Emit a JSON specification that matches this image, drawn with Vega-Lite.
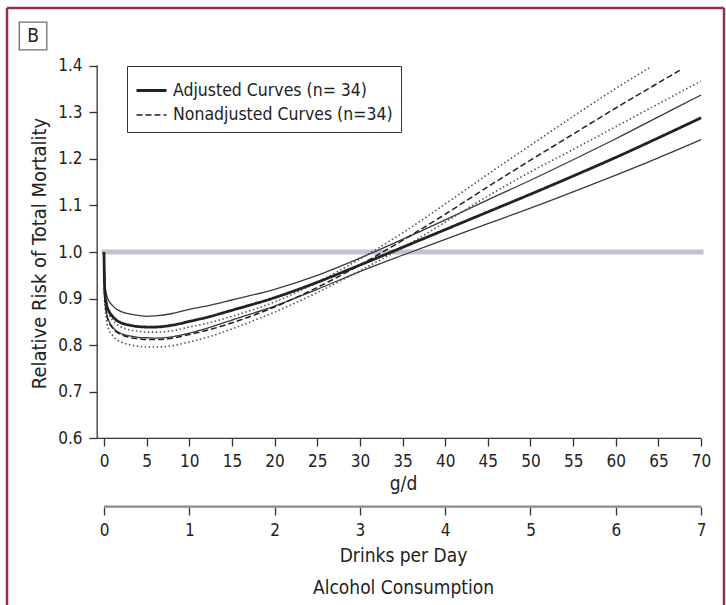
{
  "$schema": "https://vega.github.io/schema/vega-lite/v6.json",
  "width": 717,
  "height": 597,
  "autosize": {"type": "none"},
  "padding": {"left": 7, "top": 8, "right": 2, "bottom": 0},
  "background": "white",
  "config": {
    "view": {"stroke": null},
    "font": "DejaVu Sans Condensed, Liberation Sans Narrow, sans-serif",
    "axis": {
      "grid": false,
      "domain": false,
      "tickColor": "#333",
      "tickWidth": 1.3,
      "labelColor": "#222",
      "titleColor": "#222",
      "labelFontSize": 17,
      "titleFontSize": 19,
      "titleFontWeight": "normal"
    },
    "legend": {"labelColor": "#222"}
  },
  "datasets": {
    "curves": [
      {"c":"AC","x":0,"y":1.0},{"c":"AC","x":0.05,"y":0.94},{"c":"AC","x":0.1,"y":0.915},{"c":"AC","x":0.3,"y":0.888},{"c":"AC","x":0.6,"y":0.872},{"c":"AC","x":1,"y":0.862},{"c":"AC","x":1.5,"y":0.853},{"c":"AC","x":2,"y":0.848},{"c":"AC","x":3,"y":0.843},{"c":"AC","x":4,"y":0.840},{"c":"AC","x":5,"y":0.839},{"c":"AC","x":6,"y":0.839},{"c":"AC","x":8,"y":0.843},{"c":"AC","x":10,"y":0.851},{"c":"AC","x":12.5,"y":0.862},{"c":"AC","x":15,"y":0.875},{"c":"AC","x":20,"y":0.902},{"c":"AC","x":25,"y":0.935},{"c":"AC","x":30,"y":0.972},{"c":"AC","x":35,"y":1.010},{"c":"AC","x":40,"y":1.048},{"c":"AC","x":45,"y":1.086},{"c":"AC","x":50,"y":1.124},{"c":"AC","x":55,"y":1.163},{"c":"AC","x":60,"y":1.203},{"c":"AC","x":65,"y":1.245},{"c":"AC","x":70,"y":1.288},
      {"c":"AU","x":0,"y":1.0},{"c":"AU","x":0.05,"y":0.951},{"c":"AU","x":0.1,"y":0.931},{"c":"AU","x":0.3,"y":0.908},{"c":"AU","x":0.6,"y":0.894},{"c":"AU","x":1,"y":0.885},{"c":"AU","x":1.5,"y":0.877},{"c":"AU","x":2,"y":0.872},{"c":"AU","x":3,"y":0.867},{"c":"AU","x":4,"y":0.864},{"c":"AU","x":5,"y":0.862},{"c":"AU","x":6,"y":0.863},{"c":"AU","x":8,"y":0.868},{"c":"AU","x":10,"y":0.877},{"c":"AU","x":12.5,"y":0.886},{"c":"AU","x":15,"y":0.897},{"c":"AU","x":20,"y":0.920},{"c":"AU","x":25,"y":0.950},{"c":"AU","x":30,"y":0.987},{"c":"AU","x":35,"y":1.027},{"c":"AU","x":40,"y":1.069},{"c":"AU","x":45,"y":1.112},{"c":"AU","x":50,"y":1.154},{"c":"AU","x":55,"y":1.198},{"c":"AU","x":60,"y":1.243},{"c":"AU","x":65,"y":1.290},{"c":"AU","x":70,"y":1.337},
      {"c":"AL","x":0,"y":1.0},{"c":"AL","x":0.05,"y":0.929},{"c":"AL","x":0.1,"y":0.899},{"c":"AL","x":0.3,"y":0.869},{"c":"AL","x":0.6,"y":0.851},{"c":"AL","x":1,"y":0.839},{"c":"AL","x":1.5,"y":0.830},{"c":"AL","x":2,"y":0.825},{"c":"AL","x":3,"y":0.820},{"c":"AL","x":4,"y":0.817},{"c":"AL","x":5,"y":0.816},{"c":"AL","x":6,"y":0.815},{"c":"AL","x":8,"y":0.818},{"c":"AL","x":10,"y":0.826},{"c":"AL","x":12.5,"y":0.839},{"c":"AL","x":15,"y":0.854},{"c":"AL","x":20,"y":0.884},{"c":"AL","x":25,"y":0.920},{"c":"AL","x":30,"y":0.958},{"c":"AL","x":35,"y":0.993},{"c":"AL","x":40,"y":1.027},{"c":"AL","x":45,"y":1.061},{"c":"AL","x":50,"y":1.094},{"c":"AL","x":55,"y":1.129},{"c":"AL","x":60,"y":1.165},{"c":"AL","x":65,"y":1.202},{"c":"AL","x":70,"y":1.241},
      {"c":"NC","x":0,"y":1.0},{"c":"NC","x":0.05,"y":0.93},{"c":"NC","x":0.1,"y":0.902},{"c":"NC","x":0.3,"y":0.868},{"c":"NC","x":0.6,"y":0.849},{"c":"NC","x":1,"y":0.837},{"c":"NC","x":1.5,"y":0.828},{"c":"NC","x":2,"y":0.823},{"c":"NC","x":3,"y":0.817},{"c":"NC","x":4,"y":0.814},{"c":"NC","x":5,"y":0.812},{"c":"NC","x":6,"y":0.812},{"c":"NC","x":8,"y":0.815},{"c":"NC","x":10,"y":0.823},{"c":"NC","x":12.5,"y":0.834},{"c":"NC","x":15,"y":0.848},{"c":"NC","x":20,"y":0.882},{"c":"NC","x":25,"y":0.924},{"c":"NC","x":30,"y":0.972},{"c":"NC","x":35,"y":1.025},{"c":"NC","x":40,"y":1.081},{"c":"NC","x":45,"y":1.140},{"c":"NC","x":50,"y":1.197},{"c":"NC","x":55,"y":1.253},{"c":"NC","x":60,"y":1.309},{"c":"NC","x":65,"y":1.363},{"c":"NC","x":67.7,"y":1.392},
      {"c":"NU","x":0,"y":1.0},{"c":"NU","x":0.05,"y":0.939},{"c":"NU","x":0.1,"y":0.916},{"c":"NU","x":0.3,"y":0.884},{"c":"NU","x":0.6,"y":0.866},{"c":"NU","x":1,"y":0.854},{"c":"NU","x":1.5,"y":0.845},{"c":"NU","x":2,"y":0.839},{"c":"NU","x":3,"y":0.833},{"c":"NU","x":4,"y":0.830},{"c":"NU","x":5,"y":0.828},{"c":"NU","x":6,"y":0.828},{"c":"NU","x":8,"y":0.831},{"c":"NU","x":10,"y":0.839},{"c":"NU","x":12.5,"y":0.849},{"c":"NU","x":15,"y":0.862},{"c":"NU","x":20,"y":0.893},{"c":"NU","x":25,"y":0.935},{"c":"NU","x":30,"y":0.985},{"c":"NU","x":35,"y":1.041},{"c":"NU","x":40,"y":1.103},{"c":"NU","x":45,"y":1.167},{"c":"NU","x":50,"y":1.229},{"c":"NU","x":55,"y":1.291},{"c":"NU","x":60,"y":1.351},{"c":"NU","x":64,"y":1.396},
      {"c":"NL","x":0,"y":1.0},{"c":"NL","x":0.05,"y":0.921},{"c":"NL","x":0.1,"y":0.889},{"c":"NL","x":0.3,"y":0.853},{"c":"NL","x":0.6,"y":0.832},{"c":"NL","x":1,"y":0.821},{"c":"NL","x":1.5,"y":0.812},{"c":"NL","x":2,"y":0.807},{"c":"NL","x":3,"y":0.801},{"c":"NL","x":4,"y":0.798},{"c":"NL","x":5,"y":0.796},{"c":"NL","x":6,"y":0.796},{"c":"NL","x":8,"y":0.799},{"c":"NL","x":10,"y":0.807},{"c":"NL","x":12.5,"y":0.819},{"c":"NL","x":15,"y":0.835},{"c":"NL","x":20,"y":0.871},{"c":"NL","x":25,"y":0.913},{"c":"NL","x":30,"y":0.960},{"c":"NL","x":35,"y":1.009},{"c":"NL","x":40,"y":1.064},{"c":"NL","x":45,"y":1.120},{"c":"NL","x":50,"y":1.172},{"c":"NL","x":55,"y":1.220},{"c":"NL","x":60,"y":1.269},{"c":"NL","x":65,"y":1.318},{"c":"NL","x":70,"y":1.367}
    ]
  },
  "resolve": {"scale": {"x": "independent"}, "axis": {"x": "independent"}},
  "layer": [
    {
      "layer": [
        {
          "data": {"values": [{}]},
          "mark": {"type": "rule", "color": "#96304f", "strokeWidth": 2.5},
          "encoding": {
            "x": {"datum": -11.372, "type": "quantitative", "scale": {"domain": [-11.372, 72.685], "nice": false, "zero": false}},
            "y": {"datum": 0.2425, "type": "quantitative", "scale": {"domain": [0.2425, 1.5236], "nice": false, "zero": false}},
            "y2": {"datum": 1.5236}
          }
        },
        {
          "data": {"values": [{}]},
          "mark": {"type": "rule", "color": "#96304f", "strokeWidth": 2.5},
          "encoding": {
            "x": {"datum": 72.685, "type": "quantitative", "scale": {"domain": [-11.372, 72.685], "nice": false, "zero": false}},
            "y": {"datum": 0.2425, "type": "quantitative", "scale": {"domain": [0.2425, 1.5236], "nice": false, "zero": false}},
            "y2": {"datum": 1.5236}
          }
        },
        {
          "data": {"values": [{}]},
          "mark": {"type": "rule", "color": "#96304f", "strokeWidth": 2.5},
          "encoding": {
            "x": {"datum": -11.372, "type": "quantitative", "scale": {"domain": [-11.372, 72.685], "nice": false, "zero": false}},
            "x2": {"datum": 72.685},
            "y": {"datum": 1.5236, "type": "quantitative", "scale": {"domain": [0.2425, 1.5236], "nice": false, "zero": false}}
          }
        },
        {
          "data": {"values": [{}]},
          "mark": {"type": "rule", "color": "#c2c2ce", "strokeWidth": 5, "strokeCap": "square"},
          "encoding": {
            "x": {"datum": 0, "type": "quantitative", "scale": {"domain": [-11.372, 72.685], "nice": false, "zero": false}},
            "x2": {"datum": 70},
            "y": {"datum": 1.0, "type": "quantitative", "scale": {"domain": [0.2425, 1.5236], "nice": false, "zero": false}}
          }
        },
        {
          "data": {"values": [{}]},
          "mark": {"type": "rule", "color": "#333", "strokeWidth": 1.3},
          "encoding": {
            "x": {"datum": -0.8, "type": "quantitative", "scale": {"domain": [-11.372, 72.685], "nice": false, "zero": false}},
            "y": {"datum": 0.6, "type": "quantitative", "scale": {"domain": [0.2425, 1.5236], "nice": false, "zero": false}},
            "y2": {"datum": 1.4}
          }
        },
        {
          "data": {"values": [{}]},
          "mark": {"type": "rule", "color": "#333", "strokeWidth": 1.3},
          "encoding": {
            "x": {"datum": -0.8, "type": "quantitative", "scale": {"domain": [-11.372, 72.685], "nice": false, "zero": false}},
            "x2": {"datum": 70},
            "y": {"datum": 0.6, "type": "quantitative", "scale": {"domain": [0.2425, 1.5236], "nice": false, "zero": false}}
          }
        },
        {
          "data": {"name": "curves"},
          "transform": [{"filter": "datum.c == 'AU' || datum.c == 'AL'"}],
          "mark": {"type": "line", "color": "#3a3a3a", "strokeWidth": 1.3, "interpolate": "monotone"},
          "encoding": {
            "x": {
              "field": "x", "type": "quantitative",
              "scale": {"domain": [-11.372, 72.685], "nice": false, "zero": false},
              "axis": {"orient": "bottom", "offset": -167, "values": [0,5,10,15,20,25,30,35,40,45,50,55,60,65,70], "tickSize": 8, "labelPadding": 7, "title": "g/d", "titlePadding": 5, "titleX": 396, "titleAnchor": "start", "titleAlign": "center"}
            },
            "y": {
              "field": "y", "type": "quantitative",
              "scale": {"domain": [0.2425, 1.5236], "nice": false, "zero": false},
              "axis": {"orient": "left", "offset": -90, "values": [0.6,0.7,0.8,0.9,1.0,1.1,1.2,1.3,1.4], "format": ".1f", "tickSize": 8, "labelPadding": 7, "title": "Relative Risk of Total Mortality", "titlePadding": 8, "titleFontSize": 20, "titleY": 245, "titleAnchor": "start", "titleAlign": "center"}
            },
            "detail": {"field": "c", "type": "nominal"}
          }
        },
        {
          "data": {"name": "curves"},
          "transform": [{"filter": "datum.c == 'NU' || datum.c == 'NL'"}],
          "mark": {"type": "line", "color": "#555", "strokeWidth": 1.6, "strokeDash": [1.5, 2.5], "interpolate": "monotone"},
          "encoding": {
            "x": {"field": "x", "type": "quantitative", "scale": {"domain": [-11.372, 72.685], "nice": false, "zero": false}},
            "y": {"field": "y", "type": "quantitative", "scale": {"domain": [0.2425, 1.5236], "nice": false, "zero": false}},
            "detail": {"field": "c", "type": "nominal"}
          }
        },
        {
          "data": {"name": "curves"},
          "transform": [{"filter": "datum.c == 'AC' || datum.c == 'NC'"}],
          "mark": {"type": "line", "color": "#222", "interpolate": "monotone"},
          "encoding": {
            "x": {"field": "x", "type": "quantitative", "scale": {"domain": [-11.372, 72.685], "nice": false, "zero": false}},
            "y": {"field": "y", "type": "quantitative", "scale": {"domain": [0.2425, 1.5236], "nice": false, "zero": false}},
            "strokeDash": {
              "field": "c", "type": "ordinal",
              "scale": {"domain": ["AC", "NC"], "range": [[1, 0], [6, 3]]},
              "legend": {"title": null, "orient": "none", "legendX": 120, "legendY": 58, "labelExpr": "datum.value == 'AC' ? 'Adjusted Curves (n= 34)' : 'Nonadjusted Curves (n=34)'", "strokeColor": "#333", "padding": 8, "symbolType": "stroke", "symbolSize": 900, "symbolStrokeColor": "#222", "labelFontSize": 17.5, "labelLimit": 400, "labelOffset": 5, "rowPadding": -7}
            },
            "strokeWidth": {
              "field": "c", "type": "ordinal",
              "scale": {"domain": ["AC", "NC"], "range": [2.8, 1.5]},
              "legend": {"title": null, "orient": "none", "legendX": 120, "legendY": 58, "labelExpr": "datum.value == 'AC' ? 'Adjusted Curves (n= 34)' : 'Nonadjusted Curves (n=34)'", "strokeColor": "#333", "padding": 8, "symbolType": "stroke", "symbolSize": 900, "symbolStrokeColor": "#222", "labelFontSize": 17.5, "labelLimit": 400, "labelOffset": 5, "rowPadding": -7}
            }
          }
        },
        {
          "data": {"values": [{}]},
          "mark": {"type": "point", "shape": "square", "size": 760, "filled": false, "stroke": "#333", "strokeWidth": 1.3},
          "encoding": {
            "x": {"datum": -8.32, "type": "quantitative", "scale": {"domain": [-11.372, 72.685], "nice": false, "zero": false}},
            "y": {"datum": 1.4635, "type": "quantitative", "scale": {"domain": [0.2425, 1.5236], "nice": false, "zero": false}}
          }
        },
        {
          "data": {"values": [{"t": "B"}]},
          "mark": {"type": "text", "fontSize": 19, "color": "#222", "align": "center", "baseline": "middle"},
          "encoding": {
            "x": {"datum": -8.32, "type": "quantitative", "scale": {"domain": [-11.372, 72.685], "nice": false, "zero": false}},
            "y": {"datum": 1.4635, "type": "quantitative", "scale": {"domain": [0.2425, 1.5236], "nice": false, "zero": false}},
            "text": {"field": "t"}
          }
        }
      ]
    },
    {
      "data": {"values": [{}]},
      "mark": {"type": "rule", "color": "#8a8a8a", "strokeWidth": 2.2},
      "encoding": {
        "x": {
          "datum": 0, "type": "quantitative",
          "scale": {"domain": [-1.1372, 7.2685], "nice": false, "zero": false},
          "axis": {"orient": "bottom", "offset": -98, "values": [0,1,2,3,4,5,6,7], "format": "d", "tickSize": 8, "labelPadding": 7, "title": ["Drinks per Day", "Alcohol Consumption"], "titleLineHeight": 32, "titlePadding": 8, "titleX": 396, "titleAnchor": "start", "titleAlign": "center"}
        },
        "x2": {"datum": 7},
        "y": {"datum": 0.4534, "type": "quantitative", "scale": {"domain": [0.2425, 1.5236], "nice": false, "zero": false}}
      }
    }
  ]
}
